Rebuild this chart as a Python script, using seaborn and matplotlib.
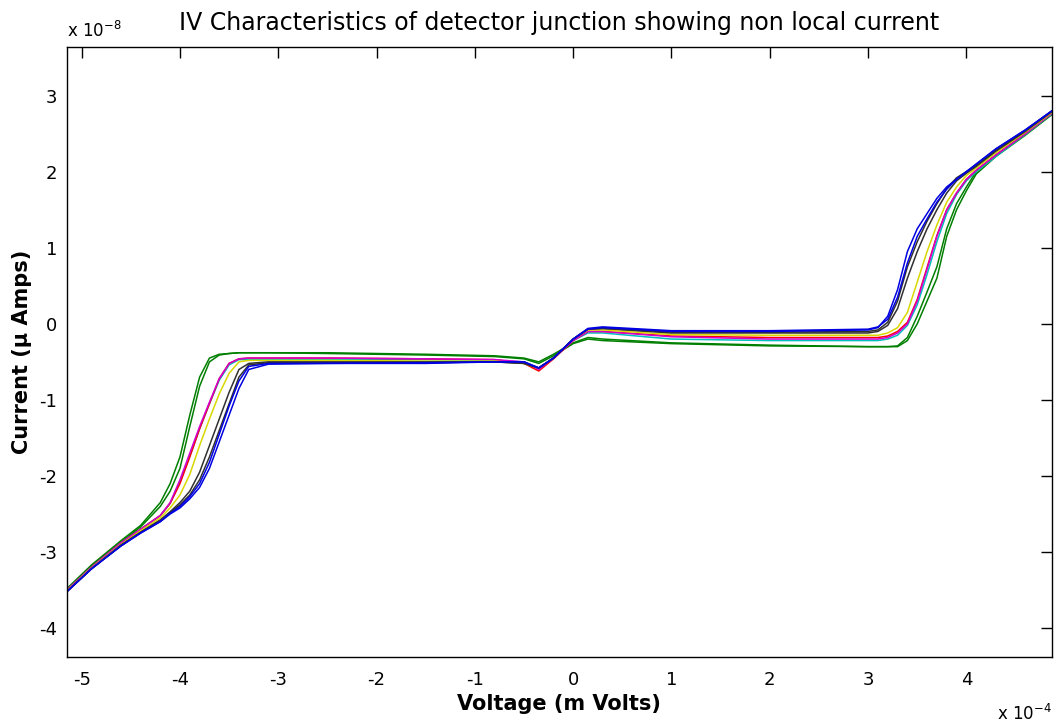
import numpy as np
import pandas as pd
import matplotlib.pyplot as plt
import seaborn as sns

plt.switch_backend('agg')

# voltage grid, units of 1e-4 V
voltage = [-5.15, -4.9, -4.6, -4.4, -4.2, -4.1, -4.0, -3.9, -3.8, -3.7, -3.6,
           -3.5, -3.4, -3.3, -3.1, -2.5, -1.5, -0.8, -0.5, -0.35, -0.2, 0.0,
           0.15, 0.3, 1.0, 2.0, 3.0, 3.1, 3.2, 3.3, 3.4, 3.5, 3.6, 3.7, 3.8,
           3.9, 4.0, 4.1, 4.3, 4.6, 4.87]

# currents, units of 1e-8 A, one list per sweep
i_green1 = [-3.48, -3.17, -2.85, -2.65, -2.35, -2.1, -1.75, -1.2, -0.7, -0.45, -0.4,
            -0.39, -0.38, -0.38, -0.38, -0.38, -0.4, -0.42, -0.45, -0.5, -0.4, -0.25,
            -0.18, -0.2, -0.25, -0.28, -0.3, -0.3, -0.3, -0.3, -0.22, 0.0, 0.3, 0.6, 1.15,
            1.5, 1.75, 1.97, 2.2, 2.48, 2.75]
i_green2 = [-3.5, -3.19, -2.87, -2.67, -2.4, -2.2, -1.9, -1.35, -0.82, -0.5, -0.41,
            -0.39, -0.38, -0.38, -0.38, -0.39, -0.41, -0.43, -0.46, -0.52, -0.42, -0.26,
            -0.2, -0.22, -0.26, -0.29, -0.3, -0.3, -0.3, -0.29, -0.18, 0.1, 0.42, 0.75, 1.25,
            1.58, 1.8, 2.0, 2.22, 2.5, 2.76]
i_red = [-3.5, -3.2, -2.88, -2.7, -2.52, -2.36, -2.1, -1.75, -1.38, -1.05, -0.72,
         -0.52, -0.46, -0.45, -0.45, -0.45, -0.46, -0.47, -0.52, -0.62, -0.46, -0.22,
         -0.1, -0.1, -0.16, -0.18, -0.18, -0.18, -0.16, -0.1, 0.02, 0.32, 0.74, 1.16, 1.5,
         1.72, 1.9, 2.02, 2.22, 2.5, 2.77]
i_cyan = [-3.5, -3.2, -2.88, -2.7, -2.52, -2.36, -2.08, -1.74, -1.38, -1.05, -0.74,
          -0.54, -0.47, -0.47, -0.47, -0.47, -0.47, -0.48, -0.5, -0.58, -0.45, -0.22,
          -0.12, -0.12, -0.2, -0.22, -0.22, -0.22, -0.2, -0.15, -0.02, 0.25, 0.65, 1.08, 1.45,
          1.7, 1.88, 2.0, 2.2, 2.49, 2.76]
i_magenta = [-3.5, -3.2, -2.88, -2.7, -2.52, -2.35, -2.05, -1.7, -1.35, -1.03, -0.72,
             -0.52, -0.46, -0.45, -0.45, -0.45, -0.46, -0.47, -0.5, -0.6, -0.45, -0.22,
             -0.1, -0.1, -0.17, -0.2, -0.2, -0.2, -0.18, -0.12, 0.0, 0.3, 0.72, 1.15, 1.5,
             1.72, 1.9, 2.02, 2.22, 2.5, 2.77]
i_yellow = [-3.51, -3.21, -2.9, -2.72, -2.55, -2.42, -2.25, -1.98, -1.6, -1.25, -0.92,
            -0.65, -0.5, -0.48, -0.48, -0.48, -0.49, -0.49, -0.52, -0.58, -0.45, -0.2,
            -0.08, -0.08, -0.14, -0.15, -0.15, -0.15, -0.12, -0.05, 0.15, 0.55, 0.95, 1.3, 1.6,
            1.8, 1.95, 2.05, 2.25, 2.52, 2.78]
i_black1 = [-3.52, -3.22, -2.91, -2.74, -2.58, -2.47, -2.35, -2.2, -1.95, -1.6, -1.25,
            -0.9, -0.6, -0.52, -0.5, -0.5, -0.5, -0.5, -0.52, -0.58, -0.45, -0.2,
            -0.07, -0.06, -0.12, -0.12, -0.12, -0.1, -0.02, 0.2, 0.6, 0.95, 1.25, 1.5, 1.72,
            1.88, 1.98, 2.07, 2.27, 2.53, 2.79]
i_black2 = [-3.52, -3.22, -2.91, -2.74, -2.58, -2.48, -2.38, -2.25, -2.05, -1.75, -1.4,
            -1.05, -0.7, -0.54, -0.51, -0.51, -0.51, -0.5, -0.52, -0.58, -0.45, -0.2,
            -0.07, -0.06, -0.11, -0.11, -0.1, -0.08, 0.02, 0.3, 0.75, 1.08, 1.35, 1.58, 1.78,
            1.92, 2.0, 2.08, 2.28, 2.54, 2.8]
i_blue1 = [-3.52, -3.22, -2.92, -2.75, -2.6, -2.5, -2.42, -2.3, -2.15, -1.9, -1.55,
           -1.2, -0.85, -0.6, -0.53, -0.52, -0.52, -0.5, -0.5, -0.58, -0.45, -0.2,
           -0.07, -0.05, -0.1, -0.1, -0.08, -0.05, 0.1, 0.45, 0.95, 1.25, 1.45, 1.65, 1.8,
           1.9, 2.0, 2.1, 2.3, 2.55, 2.8]
i_blue2 = [-3.52, -3.22, -2.92, -2.75, -2.6, -2.49, -2.4, -2.27, -2.1, -1.82, -1.45,
           -1.08, -0.75, -0.56, -0.52, -0.52, -0.51, -0.5, -0.5, -0.58, -0.45, -0.2,
           -0.06, -0.04, -0.09, -0.09, -0.07, -0.04, 0.06, 0.35, 0.8, 1.15, 1.38, 1.6, 1.77,
           1.9, 2.0, 2.1, 2.3, 2.55, 2.8]

sweeps = {
    'green1': (i_green1, '#007f00'),
    'green2': (i_green2, '#007f00'),
    'cyan': (i_cyan, '#00bfbf'),
    'red': (i_red, '#ff0000'),
    'magenta': (i_magenta, '#d000d0'),
    'yellow': (i_yellow, '#d8d800'),
    'black1': (i_black1, '#303030'),
    'black2': (i_black2, '#303030'),
    'blue1': (i_blue1, '#0000e0'),
    'blue2': (i_blue2, '#0000e0'),
}

frames = []
for name, (cur, _) in sweeps.items():
    d = pd.DataFrame({'V': voltage, 'I': cur})
    d['sweep'] = name
    frames.append(d)
df = pd.concat(frames, ignore_index=True)
palette = {k: v[1] for k, v in sweeps.items()}

sns.set_style('white')
plt.rcParams['font.family'] = ['DejaVu Sans']
plt.rcParams['axes.unicode_minus'] = False
plt.rcParams['text.color'] = 'black'
plt.rcParams['axes.labelcolor'] = 'black'
plt.rcParams['xtick.color'] = 'black'
plt.rcParams['ytick.color'] = 'black'

fig = plt.figure(figsize=(10.62, 7.28), dpi=100)
ax = fig.add_axes([0.063, 0.0975, 0.9275, 0.838])

sns.lineplot(data=df, x='V', y='I', hue='sweep', palette=palette, units='sweep',
             estimator=None, sort=False, legend=False, lw=1.1, ax=ax)

ax.set_xlim(-5.15, 4.87)
ax.set_ylim(-4.38, 3.64)
ax.set_xticks(np.arange(-5, 5, 1))
ax.set_yticks(np.arange(-4, 4, 1))
ax.tick_params(direction='in', length=8, width=1, top=True, right=True,
               labelsize=13, color='black', labelcolor='black')
ax.tick_params(axis='x', pad=10)
ax.tick_params(axis='y', pad=7)
for s in ax.spines.values():
    s.set_color('black')
    s.set_linewidth(1)

ax.set_xlabel('Voltage (m Volts)', fontsize=15, fontweight='bold', labelpad=4, color='black')
ax.set_ylabel('Current (µ Amps)', fontsize=15, fontweight='bold', labelpad=5, color='black')
ax.set_title('IV Characteristics of detector junction showing non local current',
             fontsize=17, pad=12, color='black')

ax.text(0.0, 1.0164, r'x 10$^{-8}$', transform=ax.transAxes, fontsize=12,
        ha='left', va='baseline', color='black')
ax.text(1.0, -0.093, r'x 10$^{-4}$', transform=ax.transAxes, fontsize=12,
        ha='right', va='center', color='black')

fig.savefig('out.png', dpi=100)
